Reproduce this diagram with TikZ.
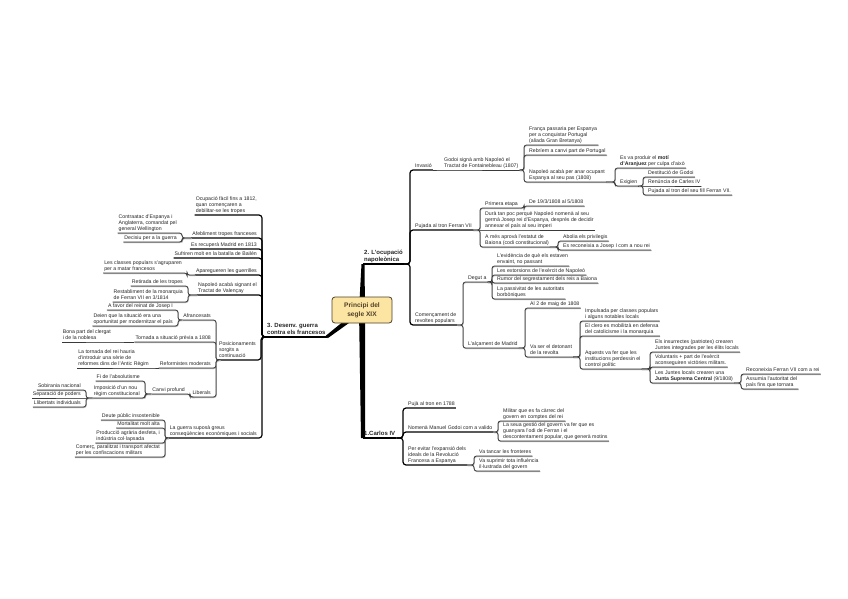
\documentclass[tikz,border=0pt]{standalone}
\usepackage{fontspec}
\setmainfont{Liberation Sans}
\usetikzlibrary{calc,backgrounds}
\definecolor{InkGray}{HTML}{262626}
\definecolor{LineGray}{HTML}{3A3A3A}
\definecolor{ShadeGray}{HTML}{B0B0B0}
\definecolor{RootFill}{HTML}{FCE4A2}
\definecolor{RootEdge}{HTML}{4F4128}

\begin{document}
\begin{tikzpicture}[
  x=1pt,y=-1pt,
  every node/.style={font=\fontsize{5.2}{6.2}\selectfont,text=InkGray,align=left,inner xsep=1pt,inner ysep=0.8pt,text depth=1.2pt},
  rt/.style={anchor=south west},
  lt/.style={anchor=south east},
  main/.style={anchor=south west,font=\fontsize{6}{7.6}\selectfont\bfseries},
  root/.style={draw=RootEdge,fill=RootFill,rounded corners=3pt,line width=0.8pt,minimum width=60pt,minimum height=26pt,align=center,font=\fontsize{6.6}{9}\selectfont\bfseries,text=RootEdge},
  link/.style={draw=LineGray,line width=0.8pt,rounded corners=2.5pt,preaction={draw=ShadeGray,line width=0.8pt,transform canvas={shift={(0.4pt,-0.6pt)}}}},
  blink/.style={draw=black,line width=1.2pt,rounded corners=3pt},
  mline/.style={draw=black,line width=2pt},
  trunk/.style={fill=black}
]
\useasboundingbox (0,0) rectangle (848,599);

\node[root] (root) at (362,310) {Principi del\\segle XIX};

\node[main] (b2) at (363,264) {2. L'ocupació\\napoleònica};
\node[main] (b3) at (266,337) {3. Desenv. guerra\\contra els francesos};
\node[main] (b1) at (363,438) {1.Carlos IV};

\node[rt] (inv) at (414,170) {Invasió};
\node[rt] (godoi) at (443,170) {Godoi signà amb Napoleó el\\Tractat de Fontainebleau (1807)};
\node[rt] (franca) at (528,145) {França passaria per Espanya\\per a conquistar Portugal\\(aliada Gran Bretanya)};
\node[rt] (rebrem) at (528,155) {Rebríem a canvi part de Portugal};
\node[rt] (ocupa) at (528,182) {Napoleó acabà per anar ocupant\\Espanya al seu pas (1808)};
\node[rt] (moti) at (619,168) {Es va produir el \textbf{motí}\\\textbf{d'Aranjuez} per culpa d'això};
\node[rt] (exig) at (619,186) {Exigien};
\node[rt] (destit) at (647,177) {Destitució de Godoi};
\node[rt] (renun) at (647,186) {Renúncia de Carles IV};
\node[rt] (pujfill) at (647,195) {Pujada al tron del seu fill Ferran VII.};

\node[rt] (ferr) at (414,230) {Pujada al tron Ferran VII};
\node[rt] (etapa) at (484,208) {Primera etapa};
\node[rt] (dates) at (528,206) {De 19/3/1808 al 5/1808};
\node[rt] (dura) at (484,230) {Durà tan poc perquè Napoleó nomenà al seu\\germà Josep rei d'Espanya, després de decidir\\annexar el país al seu imperi};
\node[rt] (estatut) at (484,247) {A més aprovà l'estatut de\\Baiona (codi constitucional)};
\node[rt] (abolia) at (562,241) {Abolia els privilegis};
\node[rt] (josep) at (562,250) {Es reconeixia a Josep I com a nou rei};

\node[rt] (revol) at (414,325) {Començament de\\revoltes populars};
\node[rt] (degut) at (467,282) {Degut a};
\node[rt] (evid) at (496,266) {L'evidència de què els estaven\\envaint, no passant};
\node[rt] (extor) at (496,275) {Les extorsions de l'exèrcit de Napoleó};
\node[rt] (rumor) at (496,283) {Rumor del segrestament dels reis a Baiona};
\node[rt] (passiv) at (496,299) {La passivitat de les autoritats\\borbòniques};
\node[rt] (alcam) at (467,348) {L'alçament de Madrid};
\node[rt] (maig) at (529,308) {Al 2 de maig de 1808};
\node[rt] (deton) at (529,357) {Va ser el detonant\\de la revolta};
\node[rt] (impul) at (584,321) {Impulsada per classes populars\\i alguns notables locals};
\node[rt] (clero) at (584,336) {El clero es mobilitzà en defensa\\del catolicisme i la monarquia};
\node[rt] (aquest) at (584,369) {Aquests va fer que les\\institucions perdessin el\\control polític};
\node[rt] (insur) at (654,352) {Els insurrectes (patriotes) crearen\\Juntes integrades per les élits locals};
\node[rt] (volunt) at (654,367) {Voluntaris + part de l'exèrcit\\aconseguiren victòries militars.};
\node[rt] (juntes) at (654,383) {Les Juntes locals crearen una\\\textbf{Junta Suprema Central} (9/1808)};
\node[rt] (reconf) at (745,374) {Reconeixia Ferran VII com a rei};
\node[rt] (assum) at (745,389) {Assumia l'autoritat del\\país fins que tornara};

\node[rt] (tron) at (407,408) {Pujà al tron en 1788};
\node[rt] (valido) at (407,432) {Nomenà Manuel Godoi com a valido};
\node[rt] (milit) at (502,421) {Militar que es fa càrrec del\\govern en comptes del rei};
\node[rt] (gestio) at (502,441) {La seua gestió del govern va fer que es\\guanyara l'odi de Ferran i el\\descontentament popular, que generà motins};
\node[rt] (evitar) at (407,465) {Per evitar l'expansió dels\\ideals de la Revolució\\Francesa a Espanya};
\node[rt] (fronter) at (478,456) {Va tancar les fronteres};
\node[rt] (suprim) at (478,471) {Va suprimir tota influència\\il·lustrada del govern};

\node[lt] (ocup) at (258,215) {Ocupació fàcil fins a 1812,\\quan començaren a\\debilitar-se les tropes};
\node[lt] (afeb) at (258,238) {Afebliment tropes franceses};
\node[lt] (contra) at (178,233) {Contraatac d'Espanya i\\Anglaterra, comandat pel\\general Wellington};
\node[lt] (decis) at (178,242) {Decisiu per a la guerra};
\node[lt] (madrid) at (258,249) {Es recuperà Madrid en 1813};
\node[lt] (bailen) at (258,258) {Sufriren molt en la batalla de Bailén};
\node[lt] (guerr) at (258,275) {Aparegueren les guerrilles};
\node[lt] (classes) at (183,273) {Les classes populars s'agruparen\\per a matar francesos};
\node[lt] (valen) at (258,295) {Napoleó acabà signant el\\Tractat de Valençay};
\node[lt] (retir) at (184,286) {Retirada de les tropes};
\node[lt] (restab) at (184,302) {Restabliment de la monarquia\\de Ferran VII en 3/1814};
\node[lt] (posic) at (257,360) {Posicionaments\\sorgits a\\continuació};
\node[lt] (afran) at (212,320) {Afrancesats};
\node[lt] (favor) at (174,310) {A favor del reinat de Josep I};
\node[lt] (deien) at (174,326) {Deien que la situació era una\\oportunitat per modernitzar el país};
\node[lt] (torna) at (212,342) {Tornada a situació prèvia a 1808};
\node[lt] (clergat) at (112,342) {Bona part del clergat\\i de la noblesa};
\node[lt] (reform) at (212,368) {Reformistes moderats};
\node[lt] (reirei) at (150,368) {La tornada del rei hauria\\d'introduir una sèrie de\\reformes dins de l'Antic Règim};
\node[lt] (liberal) at (212,397) {Liberals};
\node[lt] (canvi) at (186,394) {Canvi profund};
\node[lt] (fiabs) at (141,381) {Fi de l'absolutisme};
\node[lt] (nourg) at (141,398) {Imposició d'un nou\\règim constitucional};
\node[lt] (sobir) at (82,390) {Sobirania nacional};
\node[lt] (separ) at (82,398) {Separació de poders};
\node[lt] (llib) at (82,407) {Llibertats individuals};
\node[lt] (conseq) at (258,438) {La guerra suposà greus\\conseqüències econòmiques i socials};
\node[lt] (deute) at (161,420) {Deute públic insostenible};
\node[lt] (mortal) at (161,428) {Mortalitat molt alta};
\node[lt] (produc) at (161,443) {Producció agrària desfeta, i\\indústria col·lapsada};
\node[lt] (comerc) at (161,457) {Comerç, paralitzat i transport afectat\\per les confiscacions militars};

\begin{pgfonlayer}{background}
\fill[white] (0,0) rectangle (848,599);
\fill[trunk] ($(root.center)+(-3,0)$) -- ($(root.center)+(3,0)$) -- ($(b2.south west)+(1.5,0)$) -- ($(b2.south west)+(-1.5,0)$) -- cycle;
\fill[trunk] ($(root.center)+(-3,0)$) -- ($(root.center)+(3,0)$) -- ($(b1.south west)+(2,0)$) -- ($(b1.south west)+(-2,0)$) -- cycle;
\fill[trunk] ($(root.center)+(-1.9,-2.3)$) -- ($(root.center)+(1.9,2.3)$) -- ($(b3.south east)+(1,1.2)$) -- ($(b3.south east)+(-1,-1.2)$) -- cycle;
\end{pgfonlayer}
\draw[mline] (b2.south west) -- (b2.south east);
\draw[mline] (b3.south west) -- (b3.south east);
\draw[mline] (b1.south west) -- (b1.south east);

\draw[blink] (b2.south east) -| ([xshift=-4pt]inv.south west) -- (inv.south east);
\draw[blink] (b2.south east) -| ([xshift=-4pt]ferr.south west) -- (ferr.south east);
\draw[blink] (b2.south east) -| ([xshift=-4pt]revol.south west) -- (revol.south east);
\draw[link] (inv.south east) -- (godoi.south west) -- (godoi.south east);
\draw[link] (godoi.south east) -| ([xshift=-4pt]franca.south west) -- (franca.south east);
\draw[link] (godoi.south east) -| ([xshift=-4pt]rebrem.south west) -- (rebrem.south east);
\draw[link] (godoi.south east) -| ([xshift=-4pt]ocupa.south west) -- (ocupa.south east);
\draw[link] (ocupa.south east) -| ([xshift=-4pt]moti.south west) -- (moti.south east);
\draw[link] (ocupa.south east) -| ([xshift=-4pt]exig.south west) -- (exig.south east);
\draw[link] (exig.south east) -| ([xshift=-4pt]destit.south west) -- (destit.south east);
\draw[link] (exig.south east) -- (renun.south west) -- (renun.south east);
\draw[link] (exig.south east) -| ([xshift=-4pt]pujfill.south west) -- (pujfill.south east);
\draw[link] (ferr.south east) -| ([xshift=-4pt]etapa.south west) -- (etapa.south east);
\draw[link] (ferr.south east) -- (dura.south west) -- (dura.south east);
\draw[link] (ferr.south east) -| ([xshift=-4pt]estatut.south west) -- (estatut.south east);
\draw[link] (etapa.south east) -| ([xshift=-4pt]dates.south west) -- (dates.south east);
\draw[link] (estatut.south east) -| ([xshift=-4pt]abolia.south west) -- (abolia.south east);
\draw[link] (estatut.south east) -| ([xshift=-4pt]josep.south west) -- (josep.south east);
\draw[link] (revol.south east) -| ([xshift=-4pt]degut.south west) -- (degut.south east);
\draw[link] (revol.south east) -| ([xshift=-4pt]alcam.south west) -- (alcam.south east);
\draw[link] (degut.south east) -| ([xshift=-4pt]evid.south west) -- (evid.south east);
\draw[link] (degut.south east) -| ([xshift=-4pt]extor.south west) -- (extor.south east);
\draw[link] (degut.south east) -| ([xshift=-4pt]rumor.south west) -- (rumor.south east);
\draw[link] (degut.south east) -| ([xshift=-4pt]passiv.south west) -- (passiv.south east);
\draw[link] (alcam.south east) -| ([xshift=-4pt]maig.south west) -- (maig.south east);
\draw[link] (alcam.south east) -| ([xshift=-4pt]deton.south west) -- (deton.south east);
\draw[link] (deton.south east) -| ([xshift=-4pt]impul.south west) -- (impul.south east);
\draw[link] (deton.south east) -| ([xshift=-4pt]clero.south west) -- (clero.south east);
\draw[link] (deton.south east) -| ([xshift=-4pt]aquest.south west) -- (aquest.south east);
\draw[link] (aquest.south east) -| ([xshift=-4pt]insur.south west) -- (insur.south east);
\draw[link] (aquest.south east) -| ([xshift=-4pt]volunt.south west) -- (volunt.south east);
\draw[link] (aquest.south east) -| ([xshift=-4pt]juntes.south west) -- (juntes.south east);
\draw[link] (juntes.south east) -| ([xshift=-4pt]reconf.south west) -- (reconf.south east);
\draw[link] (juntes.south east) -| ([xshift=-4pt]assum.south west) -- (assum.south east);

\draw[blink] (b1.south east) -| ([xshift=-4pt]tron.south west) -- (tron.south east);
\draw[blink] (b1.south east) -| ([xshift=-4pt]valido.south west) -- (valido.south east);
\draw[blink] (b1.south east) -| ([xshift=-4pt]evitar.south west) -- (evitar.south east);
\draw[link] (valido.south east) -| ([xshift=-4pt]milit.south west) -- (milit.south east);
\draw[link] (valido.south east) -| ([xshift=-4pt]gestio.south west) -- (gestio.south east);
\draw[link] (evitar.south east) -| ([xshift=-4pt]fronter.south west) -- (fronter.south east);
\draw[link] (evitar.south east) -| ([xshift=-4pt]suprim.south west) -- (suprim.south east);

\draw[blink] (b3.south west) -| ([xshift=4pt]ocup.south east) -- (ocup.south west);
\draw[blink] (b3.south west) -| ([xshift=4pt]afeb.south east) -- (afeb.south west);
\draw[blink] (b3.south west) -| ([xshift=4pt]madrid.south east) -- (madrid.south west);
\draw[blink] (b3.south west) -| ([xshift=4pt]bailen.south east) -- (bailen.south west);
\draw[blink] (b3.south west) -| ([xshift=4pt]guerr.south east) -- (guerr.south west);
\draw[blink] (b3.south west) -| ([xshift=4pt]valen.south east) -- (valen.south west);
\draw[blink] (b3.south west) -| ([xshift=4pt]posic.south east) -- (posic.south west);
\draw[blink] (b3.south west) -| ([xshift=4pt]conseq.south east) -- (conseq.south west);
\draw[link] (afeb.south west) -| ([xshift=4pt]contra.south east) -- (contra.south west);
\draw[link] (afeb.south west) -| ([xshift=4pt]decis.south east) -- (decis.south west);
\draw[link] (guerr.south west) -| ([xshift=4pt]classes.south east) -- (classes.south west);
\draw[link] (valen.south west) -| ([xshift=4pt]retir.south east) -- (retir.south west);
\draw[link] (valen.south west) -| ([xshift=4pt]restab.south east) -- (restab.south west);
\draw[link] (posic.south west) -| ([xshift=4pt]afran.south east) -- (afran.south west);
\draw[link] (posic.south west) -| ([xshift=4pt]torna.south east) -- (torna.south west);
\draw[link] (posic.south west) -| ([xshift=4pt]reform.south east) -- (reform.south west);
\draw[link] (posic.south west) -| ([xshift=4pt]liberal.south east) -- (liberal.south west);
\draw[link] (afran.south west) -| ([xshift=4pt]favor.south east) -- (favor.south west);
\draw[link] (afran.south west) -| ([xshift=4pt]deien.south east) -- (deien.south west);
\draw[link] (torna.south west) -- (clergat.south east) -- (clergat.south west);
\draw[link] (reform.south west) -- (reirei.south east) -- (reirei.south west);
\draw[link] (liberal.south west) -| ([xshift=4pt]canvi.south east) -- (canvi.south west);
\draw[link] (canvi.south west) -| ([xshift=4pt]fiabs.south east) -- (fiabs.south west);
\draw[link] (canvi.south west) -| ([xshift=4pt]nourg.south east) -- (nourg.south west);
\draw[link] (nourg.south west) -| ([xshift=4pt]sobir.south east) -- (sobir.south west);
\draw[link] (nourg.south west) -- (separ.south east) -- (separ.south west);
\draw[link] (nourg.south west) -| ([xshift=4pt]llib.south east) -- (llib.south west);
\draw[link] (conseq.south west) -| ([xshift=4pt]deute.south east) -- (deute.south west);
\draw[link] (conseq.south west) -| ([xshift=4pt]mortal.south east) -- (mortal.south west);
\draw[link] (conseq.south west) -| ([xshift=4pt]produc.south east) -- (produc.south west);
\draw[link] (conseq.south west) -| ([xshift=4pt]comerc.south east) -- (comerc.south west);
\end{tikzpicture}
\end{document}
